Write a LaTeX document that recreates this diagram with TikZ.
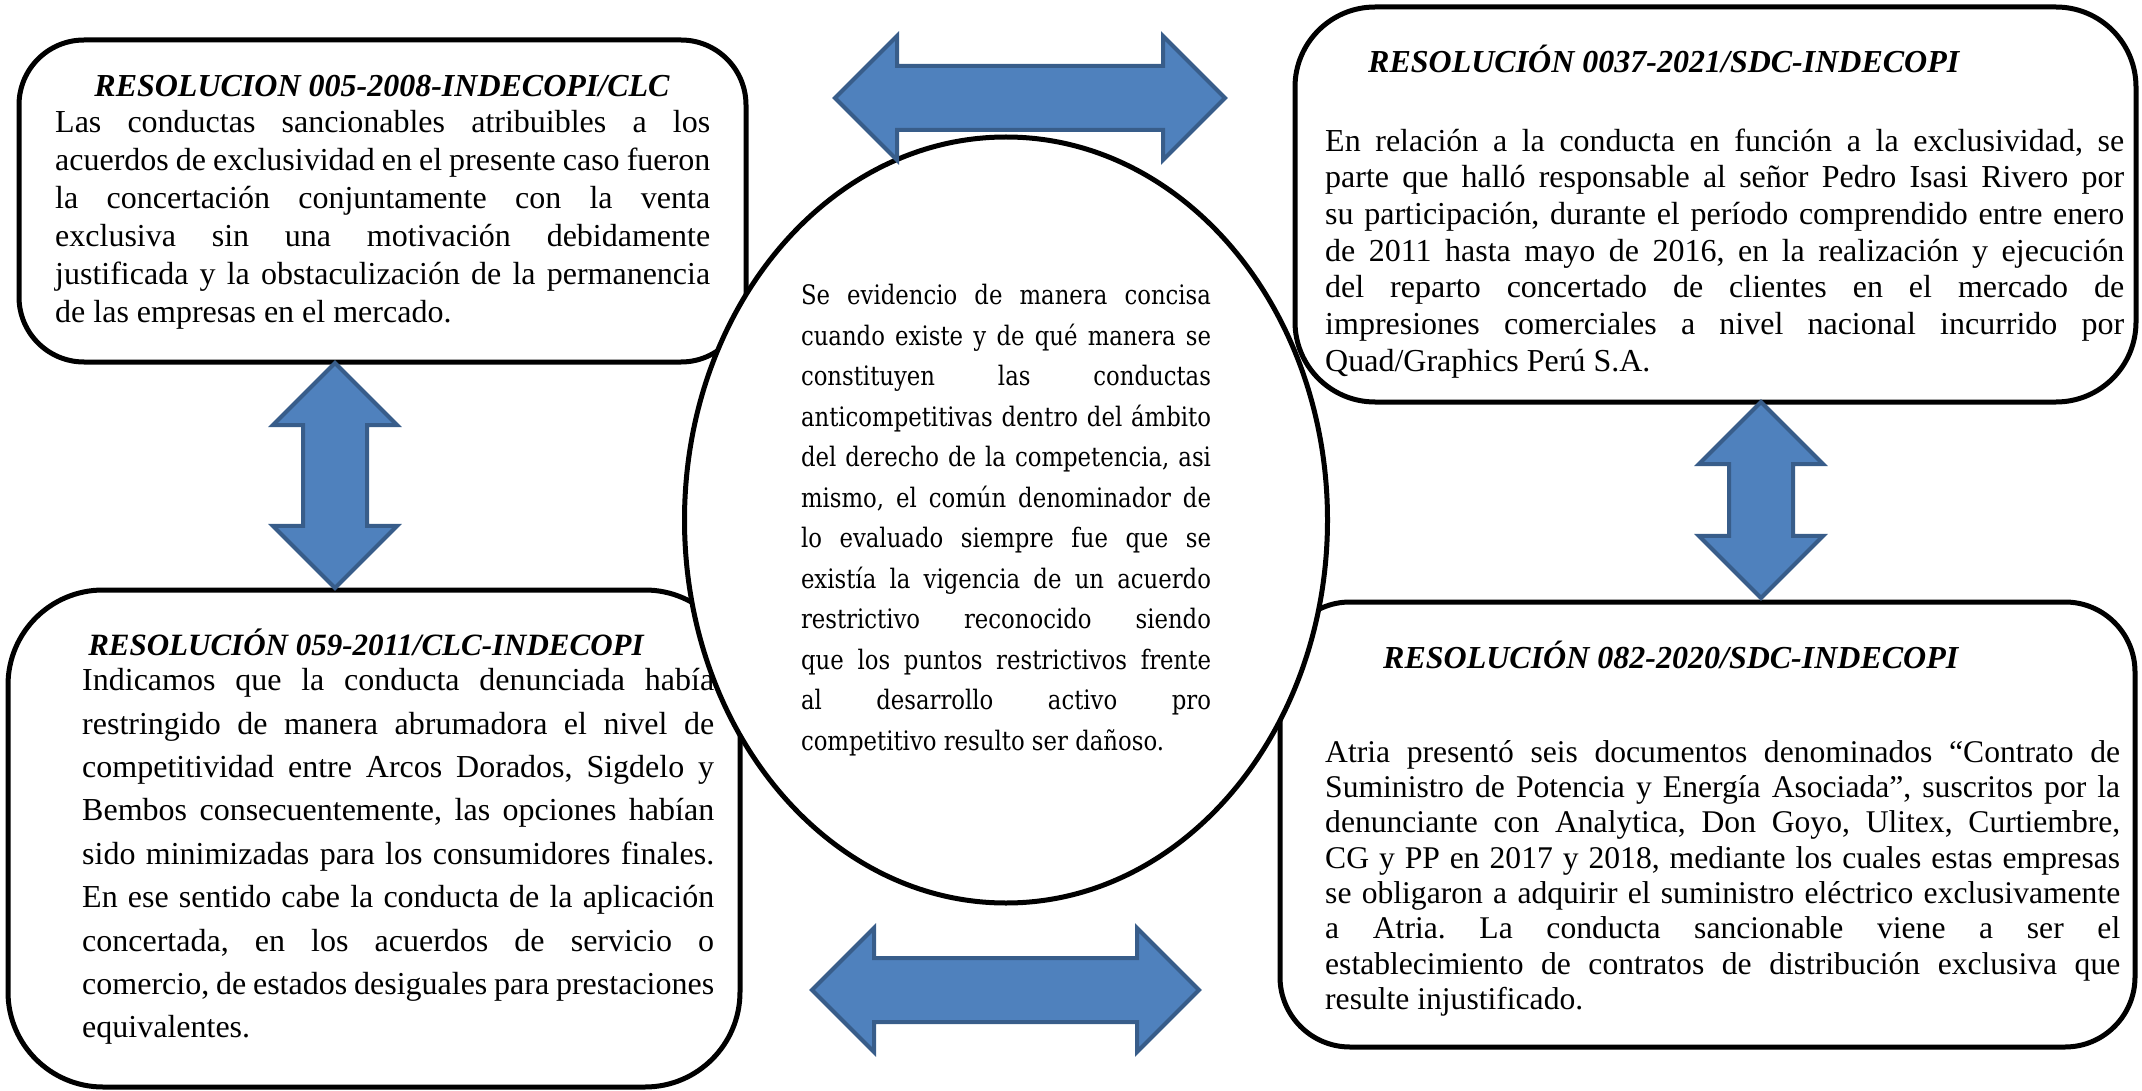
\documentclass[tikz,border=0pt]{standalone}
\usepackage{fontspec}
\setmainfont{Liberation Serif}
\newfontfamily\ovalfont[FakeStretch=0.85]{DejaVu Serif}
\usetikzlibrary{shapes.geometric,shapes.arrows,positioning}
\definecolor{arrowfill}{HTML}{4F81BD}
\definecolor{arrowline}{HTML}{385D8A}
\setlength{\parindent}{0pt}
\tolerance=10000
\hyphenpenalty=10000
\frenchspacing
\tikzset{
  resbox/.style={draw,line width=5pt,rounded corners=#1,inner sep=0pt},
  restitle/.style={font=\fontsize{32}{36.7}\selectfont\bfseries\itshape,
                   inner sep=0pt,anchor=base},
  resbody/.style={font=\fontsize{32}{36.7}\selectfont,inner sep=0pt,
                  anchor=north west,align=justify,text width=#1},
  dblarr/.style={double arrow,draw=arrowline,fill=arrowfill,line width=4pt,
                 double arrow tip angle=90,double arrow head extend=30pt,
                 inner xsep=0pt,inner ysep=30pt,minimum height=#1},
}

\begin{document}
\begin{tikzpicture}[x=1pt,y=-1pt]
\useasboundingbox (0,0) rectangle (2142,1091);

% the four resolution boxes
\node[resbox=65pt,minimum width=727pt,minimum height=322pt] (tlbox) at (382.5,201) {};
\node[resbox=80pt,minimum width=841pt,minimum height=395pt] (trbox) at (1715.5,204.5) {};
\node[resbox=95pt,minimum width=732pt,minimum height=497pt] (blbox) at (374,838.5) {};
\node[resbox=70pt,minimum width=855pt,minimum height=445pt] (brbox) at (1707.5,824.5) {};

\node[restitle] (tltitle) at (382,96.6) {RESOLUCION 005-2008-INDECOPI/CLC};
\node[resbody=655pt,font=\fontsize{32}{38}\selectfont] (tltext) at (55,106) {\strut Las conductas sancionables atribuibles a los\linebreak
acuerdos de exclusividad en el presente caso fueron\linebreak
la concertación conjuntamente con la venta\linebreak
exclusiva sin una motivación debidamente\linebreak
justificada y la obstaculización de la permanencia\linebreak
de las empresas en el mercado.};

\node[restitle,anchor=base west] (trtitle) at (1368,72.6) {RESOLUCIÓN 0037-2021/SDC-INDECOPI};
\node[resbody=799pt] (trtext) at (1325,125.3) {\strut En relación a la conducta en función a la exclusividad, se\linebreak
parte que halló responsable al señor Pedro Isasi Rivero por\linebreak
su participación, durante el período comprendido entre enero\linebreak
de 2011 hasta mayo de 2016, en la realización y ejecución\linebreak
del reparto concertado de clientes en el mercado de\linebreak
impresiones comerciales a nivel nacional incurrido por\linebreak
Quad/Graphics Perú S.A.};

\node[restitle,font=\fontsize{31}{36.7}\selectfont\bfseries\itshape] (bltitle) at (366,655.6) {RESOLUCIÓN 059-2011/CLC-INDECOPI};
\node[resbody=632pt,font=\fontsize{32}{43.4}\selectfont] (bltext) at (82,660.2) {\strut Indicamos que la conducta denunciada había\linebreak
restringido de manera abrumadora el nivel de\linebreak
competitividad entre Arcos Dorados, Sigdelo y\linebreak
Bembos consecuentemente, las opciones habían\linebreak
sido minimizadas para los consumidores finales.\linebreak
En ese sentido cabe la conducta de la aplicación\linebreak
concertada, en los acuerdos de servicio o\linebreak
comercio, de estados desiguales para prestaciones\linebreak
equivalentes.};

\node[restitle,anchor=base west] (brtitle) at (1383,668.6) {RESOLUCIÓN 082-2020/SDC-INDECOPI};
\node[resbody=795pt,font=\fontsize{31.6}{35.3}\selectfont] (brtext) at (1325,737.3) {\strut Atria presentó seis documentos denominados “Contrato de\linebreak
Suministro de Potencia y Energía Asociada”, suscritos por la\linebreak
denunciante con Analytica, Don Goyo, Ulitex, Curtiembre,\linebreak
CG y PP en 2017 y 2018, mediante los cuales estas empresas\linebreak
se obligaron a adquirir el suministro eléctrico exclusivamente\linebreak
a Atria. La conducta sancionable viene a ser el\linebreak
establecimiento de contratos de distribución exclusiva que\linebreak
resulte injustificado.};

% central summary
\node[ellipse,draw,line width=5pt,fill=white,minimum width=643pt,minimum height=766pt,
      inner sep=0pt,text width=410pt,align=justify,
      font=\ovalfont\fontsize{26.8}{40.5}\selectfont] (oval) at (1006,520)
  {Se evidencio de manera concisa\linebreak
   cuando existe y de qué manera se\linebreak
   constituyen las conductas\linebreak
   anticompetitivas dentro del ámbito\linebreak
   del derecho de la competencia, asi\linebreak
   mismo, el común denominador de\linebreak
   lo evaluado siempre fue que se\linebreak
   existía la vigencia de un acuerdo\linebreak
   restrictivo reconocido siendo\linebreak
   que los puntos restrictivos frente\linebreak
   al desarrollo activo pro\linebreak
   competitivo resulto ser dañoso.};

% block arrows between the boxes
\node[dblarr=390pt] (toparr) at (1030,98) {};
\node[dblarr=387pt] (botarr) at (1005.5,990) {};
\node[dblarr=225pt,rotate=90] (leftarr) at (335,475.5) {};
\node[dblarr=196pt,rotate=90] (rightarr) at (1761,500) {};
\end{tikzpicture}
\end{document}
